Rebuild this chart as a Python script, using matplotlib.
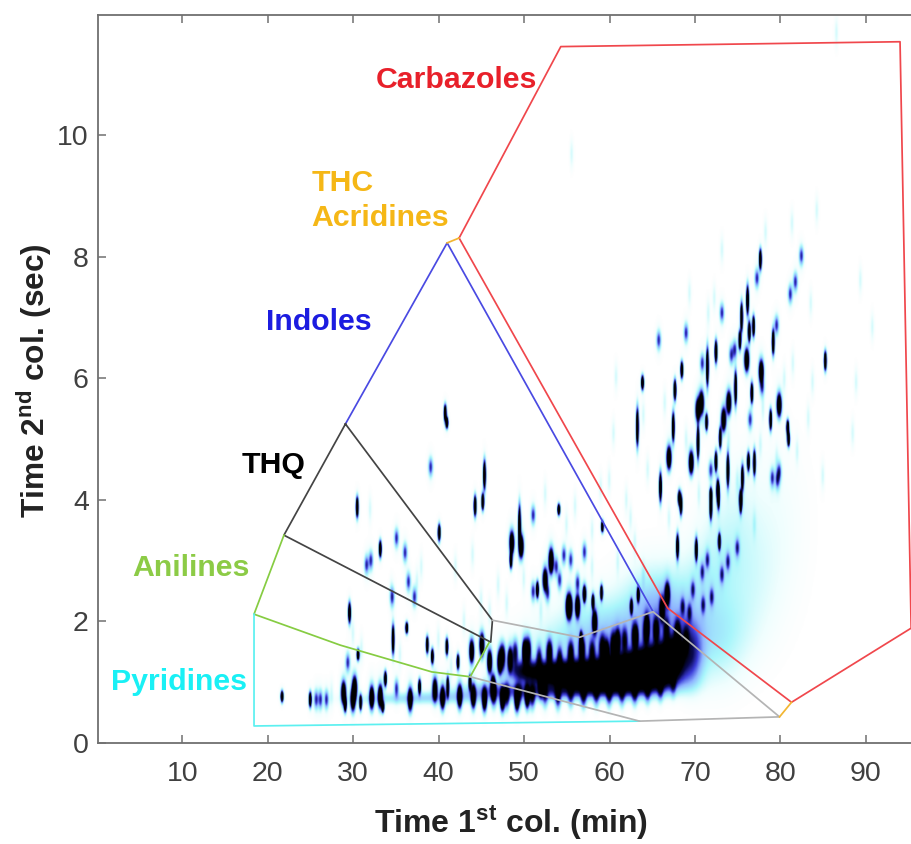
import numpy as np
import matplotlib
matplotlib.use('Agg')
import matplotlib.pyplot as plt
from matplotlib.colors import LinearSegmentedColormap

plt.rcParams['font.family'] = 'Liberation Sans'
plt.rcParams['mathtext.fontset'] = 'custom'
plt.rcParams['mathtext.bf'] = 'Liberation Sans:bold'
plt.rcParams['mathtext.rm'] = 'Liberation Sans:bold'

# black streaks: t1, t2, length of streak (sec)
black_t1 = [77.7, 76.2, 76.9, 76.4, 79.2, 75.5, 75.3, 72.5, 71.5, 68.5, 63.9, 67.7, 85.3, 74.8, 76.7, 71.4, 78.9,
            63.3, 67.5, 81.0, 80.9, 73.0, 70.4, 72.5, 73.9, 76.3, 77.0, 75.6, 66.0, 72.7, 71.9, 68.2, 75.4, 40.8,
            41.0, 45.4, 45.2, 44.3, 40.1, 30.5, 33.2, 29.6, 49.5, 48.5, 54.1, 59.2, 51.6, 34.7, 36.3, 38.7, 39.3,
            41.0, 42.3, 30.6, 33.8, 21.7, 25.0, 29.1, 30.9, 33.5, 37.8, 41.1, 43.7, 68.0, 70.2, 72.9, 68.4, 71.9,
            72.8, 75.4, 56.7, 57.1, 59.1, 58.1, 62.6, 63.4, 63.2]
black_t2 = [7.96, 7.29, 6.86, 6.77, 6.6, 7.01, 6.63, 6.44, 6.19, 6.14, 5.93, 5.81, 6.29, 5.84, 5.76, 5.28, 5.32,
            5.2, 5.2, 5.0, 5.19, 5.02, 4.95, 4.63, 4.49, 4.63, 4.61, 4.36, 4.21, 4.16, 4.08, 4.03, 4.03, 5.43,
            5.27, 4.41, 3.97, 3.9, 3.46, 3.88, 3.19, 2.14, 3.56, 3.01, 3.84, 3.56, 2.52, 1.7, 1.89, 1.61, 1.42,
            1.58, 1.33, 1.45, 1.05, 0.76, 0.71, 0.63, 0.66, 0.59, 0.92, 0.92, 0.99, 3.23, 3.18, 3.31, 3.92, 3.88,
            4.05, 3.95, 1.7, 2.44, 2.47, 2.32, 2.24, 2.44, 1.74]
black_len = [0.27, 0.38, 0.27, 0.27, 0.33, 0.38, 0.25, 0.3, 0.5, 0.22, 0.19, 0.27, 0.25, 0.44, 0.27, 0.22, 0.27,
             0.49, 0.38, 0.19, 0.2, 0.27, 0.44, 0.27, 0.44, 0.25, 0.33, 0.33, 0.38, 0.27, 0.19, 0.2, 0.2, 0.22,
             0.15, 0.38, 0.22, 0.27, 0.22, 0.27, 0.22, 0.27, 0.55, 0.22, 0.15, 0.15, 0.22, 0.38, 0.15, 0.22, 0.2,
             0.22, 0.2, 0.15, 0.2, 0.15, 0.2, 0.2, 0.2, 0.15, 0.2, 0.27, 0.2, 0.33, 0.3, 0.22, 0.27, 0.33, 0.33,
             0.27, 0.2, 0.2, 0.2, 0.2, 0.2, 0.2, 0.22]

# wider black blobs
fat_t1 = [76.1, 77.8, 74.0, 73.4, 70.8, 70.4, 79.9, 67.0, 69.6, 48.6, 49.7, 53.2, 52.5, 55.2, 56.3, 55.4, 58.3,
          43.9, 45.1, 61.0, 64.4, 59.7, 46.0, 47.2, 48.4, 50.1, 36.7, 40.5, 33.2, 44.1, 45.4, 47.5, 49.2, 50.4,
          28.9, 30.0, 30.2, 32.2, 39.6, 42.5, 46.4, 52.0, 66.2, 66.8]
fat_t2 = [6.3, 6.11, 5.6, 5.32, 5.6, 5.48, 5.56, 4.69, 4.61, 3.29, 3.23, 3.01, 2.68, 2.24, 2.24, 2.24, 1.98,
          1.5, 1.61, 1.66, 1.91, 1.48, 1.33, 1.32, 1.37, 1.5, 0.71, 0.74, 0.76, 0.76, 0.71, 0.71, 0.71, 0.76,
          0.82, 0.71, 0.9, 0.74, 0.87, 0.76, 0.92, 0.95, 2.19, 2.44]

# dark blue, weaker spots
blue_t1 = [82.5, 77.3, 81.8, 81.2, 73.2, 79.6, 74.7, 74.3, 70.9, 77.9, 65.8, 69.0, 76.5, 79.9, 79.7, 79.1, 71.9,
           39.1, 51.1, 57.1, 35.1, 36.1, 31.6, 32.1, 36.5, 37.2, 34.6, 51.1, 53.8, 54.2, 54.7, 55.5, 53.2, 57.1,
           29.4, 25.7, 26.2, 26.9, 35.1, 68.6, 69.8, 70.9, 71.5, 73.2, 73.9, 75.0, 72.0, 71.0, 69.4, 56.3, 52.8]
blue_t2 = [8.02, 7.65, 7.59, 7.39, 7.08, 6.88, 6.47, 6.39, 6.25, 5.86, 6.63, 6.75, 5.32, 4.46, 4.33, 4.36, 4.49,
           4.54, 3.75, 3.14, 3.37, 3.13, 2.93, 3.0, 2.65, 2.4, 2.4, 2.49, 2.9, 2.68, 3.09, 3.01, 2.9, 2.47,
           1.32, 0.71, 0.71, 0.71, 0.89, 2.24, 2.52, 2.81, 3.01, 2.77, 2.98, 3.21, 2.4, 2.27, 2.14, 2.63, 2.47]

# pale cyan spots
pale_t1 = [71.6, 69.4, 72.3, 73.2, 78.3, 81.4, 84.3, 89.4, 90.8, 83.6, 60.8, 81.5, 83.3, 83.8, 88.9, 79.6, 77.7,
           60.0, 86.6, 55.6, 60.5, 64.0, 66.5, 69.0, 71.0, 74.0, 78.0, 80.5, 38.0, 42.0, 44.0, 47.0, 50.0, 52.5,
           55.0, 58.0, 61.0, 63.0, 32.0, 34.5, 37.5, 30.0, 31.0, 40.0, 46.0, 52.0, 58.0, 64.0, 27.5, 35.5, 41.5,
           75.0, 77.0, 82.0, 85.0, 88.5, 67.0, 64.5, 62.0, 70.5, 45.0, 48.0, 43.0, 56.0, 59.0, 62.5]
pale_t2 = [7.08, 7.41, 7.33, 8.12, 8.41, 8.56, 8.77, 7.62, 6.85, 7.24, 6.03, 6.25, 5.35, 5.94, 5.94, 4.66, 4.91,
           4.33, 11.7, 9.7, 5.1, 5.4, 5.6, 5.0, 5.3, 5.0, 5.5, 6.0, 2.9, 2.9, 3.1, 2.6, 2.7, 4.1, 3.6, 3.5,
           3.0, 3.3, 3.85, 2.45, 2.65, 1.8, 1.55, 1.7, 2.15, 2.2, 2.9, 2.75, 0.8, 1.45, 1.25,
           4.3, 3.6, 4.8, 4.4, 5.1, 3.7, 4.5, 4.0, 4.1, 2.35, 2.3, 2.0, 3.9, 4.2, 3.7]

# jagged top and bottom edges of the hump
comb_t1 = [47.5, 49.0, 50.5, 51.8, 53.0, 54.2, 55.5, 56.8, 58.0, 59.2, 60.5, 61.8, 63.0, 64.3, 65.5, 66.7, 68.0, 69.0,
           46.5, 48.0, 49.5, 51.0, 52.5, 54.0, 55.5, 57.0, 58.5, 60.0, 61.5, 63.0, 64.5, 66.0, 67.5]
comb_t2 = [1.42, 1.48, 1.52, 1.4, 1.48, 1.38, 1.46, 1.52, 1.48, 1.55, 1.6, 1.68, 1.75, 1.78, 1.85, 1.85, 1.8, 1.7,
           0.8, 0.78, 0.8, 0.78, 0.8, 0.78, 0.8, 0.8, 0.82, 0.82, 0.83, 0.85, 0.88, 0.92, 1.0]
comb_h = [1.3, 0.8, 1.4, 0.7, 1.4, 0.8, 1.2, 1.5, 0.9, 1.3, 1.4, 0.8, 1.4, 0.8, 1.3, 0.9, 1.3, 0.7,
          0.8, 0.9, 0.5, 0.9, 0.6, 0.9, 0.6, 0.9, 0.7, 0.8, 0.7, 0.8, 0.7, 0.7, 0.6]

# main hump and the haze round it: t1, t2, width t1, width t2, height
hump_t1 = [50.0, 53.0, 56.0, 59.0, 62.0, 64.5, 66.5, 67.5, 69.5, 47.0, 52.0, 57.0, 62.0, 66.0, 69.0, 60.0, 66.0, 72.0,
           73.5, 76.5, 79.5, 70.0, 72.5, 75.0, 55.0, 60.0, 65.0, 35.0, 41.0]
hump_t2 = [1.18, 1.14, 1.12, 1.12, 1.18, 1.24, 1.32, 1.45, 1.4, 0.85, 0.85, 0.88, 0.9, 1.05, 1.7, 1.7, 2.1, 1.6,
           1.9, 2.7, 3.7, 2.4, 3.0, 3.6, 1.55, 1.9, 2.2, 0.72, 0.75]
hump_w1 = [1.2, 1.5, 1.6, 1.7, 1.7, 1.4, 1.1, 0.7, 0.9, 3.0, 3.0, 3.0, 3.0, 2.0, 1.2, 3.5, 2.0, 2.2,
           2.6, 2.6, 2.4, 1.8, 1.8, 1.8, 4.0, 4.0, 2.5, 4.0, 4.0]
hump_w2 = [0.12, 0.12, 0.13, 0.14, 0.16, 0.18, 0.18, 0.18, 0.28, 0.09, 0.09, 0.1, 0.11, 0.13, 0.3, 0.35, 0.4, 0.45,
           0.5, 0.7, 0.9, 0.5, 0.6, 0.7, 0.3, 0.4, 0.5, 0.06, 0.07]
hump_h = [0.8, 1.3, 1.7, 2.0, 2.2, 2.2, 2.0, 1.3, 0.45, 0.3, 0.35, 0.4, 0.45, 0.4, 0.3, 0.12, 0.18, 0.09,
          0.07, 0.055, 0.03, 0.09, 0.07, 0.05, 0.1, 0.1, 0.12, 0.12, 0.16]

# region outlines
carbazole_t1 = [42.4, 54.3, 94.0, 95.3, 81.3, 66.8, 42.4]
carbazole_t2 = [8.31, 11.46, 11.54, 1.89, 0.67, 2.22, 8.31]
indole_t1 = [29.1, 41.0, 65.1]
indole_t2 = [5.25, 8.23, 2.16]
thq_t1 = [29.1, 21.9, 46.1, 46.3, 29.1]
thq_t2 = [5.25, 3.42, 1.66, 2.02, 5.25]
aniline_t1 = [21.9, 18.4, 28.5, 39.2, 43.7, 45.9]
aniline_t2 = [3.42, 2.12, 1.61, 1.17, 1.09, 1.65]
pyridine_t1 = [18.4, 18.4, 63.5]
pyridine_t2 = [2.12, 0.28, 0.36]
gray_t1 = [46.3, 56.5, 65.1, 79.9, 63.5, 43.7]
gray_t2 = [2.02, 1.74, 2.16, 0.43, 0.36, 1.09]
thc_t1 = [[41.0, 42.4], [79.9, 81.3]]
thc_t2 = [[8.23, 8.31], [0.43, 0.67]]

labels = ['Carbazoles', 'THC', 'Acridines', 'Indoles', 'THQ', 'Anilines', 'Pyridines']
label_t1 = [32.6, 25.1, 25.1, 19.8, 16.9, 4.15, 1.7]
label_t2 = [10.91, 9.22, 8.64, 6.92, 4.58, 2.88, 1.01]
label_colors = ['#e8202a', '#f5b716', '#f5b716', '#1c1ce0', '#000000', '#8ccb46', '#19f0f5']

xlim = (0.2, 95.4)
ylim = (0, 11.98)

t1_grid = np.linspace(xlim[0], xlim[1], 1000)
t2_grid = np.linspace(ylim[0], ylim[1], 900)


def add_peak(z, t1, t2, w1, w2, h):
    g1 = np.exp(-0.5 * ((t1_grid - t1) / w1) ** 2)
    g2 = np.exp(-0.5 * ((t2_grid - t2) / w2) ** 2)
    z += h * np.outer(g2, g1)


z = np.zeros((len(t2_grid), len(t1_grid)))
for a, b, c in zip(black_t1, black_t2, black_len):
    add_peak(z, a, b, 0.1, c / 2.8, 2.2)
    add_peak(z, a, b, 0.2, c / 1.5, 0.06)
for a, b in zip(fat_t1, fat_t2):
    add_peak(z, a, b, 0.17, 0.11, 2.0)
    add_peak(z, a, b + 0.08, 0.3, 0.2, 0.1)
for a, b in zip(blue_t1, blue_t2):
    add_peak(z, a, b, 0.16, 0.09, 0.55)
    add_peak(z, a, b, 0.25, 0.18, 0.06)
for a, b in zip(pale_t1, pale_t2):
    add_peak(z, a, b, 0.15, 0.16, 0.08)
for a, b, c in zip(comb_t1, comb_t2, comb_h):
    add_peak(z, a, b, 0.22, 0.13, c)
for a, b, c, d, e in zip(hump_t1, hump_t2, hump_w1, hump_w2, hump_h):
    add_peak(z, a, b, c, d, e)

cmap = LinearSegmentedColormap.from_list('gc', [(0, '#ffffff'), (0.04, '#effefe'), (0.14, '#a8f6fb'),
                                               (0.3, '#8fb4ff'), (0.5, '#3c3cd8'), (0.72, '#0a0a50'),
                                               (1, '#000000')])

fig = plt.figure(figsize=(9.12, 8.44), dpi=100)
ax = fig.add_axes([98.5 / 912, 1 - 743 / 844, (912 - 98.5) / 912, (743 - 15) / 844])
ax.imshow(z, origin='lower', extent=[xlim[0], xlim[1], ylim[0], ylim[1]], aspect='auto', cmap=cmap,
          vmin=0, vmax=1, interpolation='bilinear')

ax.plot(carbazole_t1, carbazole_t2, color='#f0474c', lw=1.25, clip_on=False)
ax.plot(indole_t1, indole_t2, color='#4a4ae2', lw=1.25)
ax.plot(thq_t1, thq_t2, color='#444444', lw=1.25)
ax.plot(aniline_t1, aniline_t2, color='#86cc42', lw=1.25)
ax.plot(pyridine_t1, pyridine_t2, color='#5cf0f0', lw=1.25)
ax.plot(gray_t1, gray_t2, color='#b4b4b4', lw=1.25)
for a, b in zip(thc_t1, thc_t2):
    ax.plot(a, b, color='#f2b632', lw=1.25)

for name, a, b, c in zip(labels, label_t1, label_t2, label_colors):
    ax.text(a, b, name, color=c, fontsize=21.8, fontweight='bold', ha='left', va='center')

ax.set_xlim(xlim)
ax.set_ylim(ylim)
ax.set_xticks(range(10, 100, 10))
ax.set_yticks(range(0, 12, 2))
ax.tick_params(axis='both', direction='in', length=6, width=1.1, color='#707070', labelcolor='#404040',
               labelsize=20.5, top=True, right=False)
ax.tick_params(axis='x', pad=13)
ax.tick_params(axis='y', pad=7)
for s in ['left', 'top', 'bottom']:
    ax.spines[s].set_color('#707070')
    ax.spines[s].set_linewidth(1.3)
ax.spines['right'].set_visible(False)

fig.text(511 / 912, 1 - 823 / 844, r'Time 1$^{\mathbf{st}}$ col. (min)', color='#222222', fontsize=23,
         fontweight='bold', ha='center', va='center')
fig.text(34 / 912, 1 - 381 / 844, r'Time 2$^{\mathbf{nd}}$ col. (sec)', color='#222222', fontsize=22.8,
         fontweight='bold', ha='center', va='center', rotation=90)

fig.savefig('out.png', dpi=100)
